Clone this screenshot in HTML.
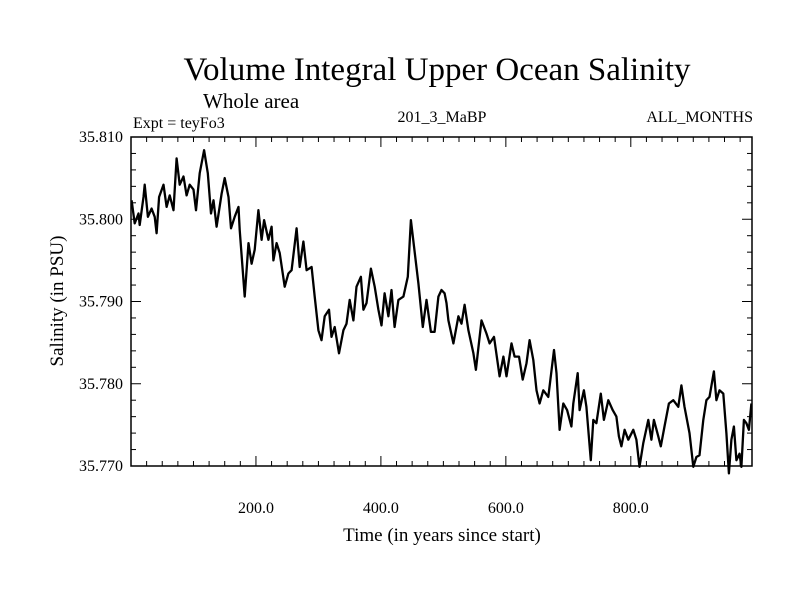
<!DOCTYPE html>
<html><head><meta charset="utf-8"><style>
body{margin:0;background:#fff;}
svg text{font-family:"Liberation Serif",serif;fill:#000;}
</style></head><body>
<svg id="chart" width="800" height="600" xmlns="http://www.w3.org/2000/svg">
<rect width="800" height="600" fill="#fff"/>
<text x="437" y="80" font-size="33" text-anchor="middle">Volume Integral Upper Ocean Salinity</text>
<text x="203" y="108" font-size="21">Whole area</text>
<text x="133" y="128" font-size="16">Expt = teyFo3</text>
<text x="442" y="122" font-size="16" text-anchor="middle">201_3_MaBP</text>
<text x="753" y="122" font-size="16" text-anchor="end">ALL_MONTHS</text>
<text transform="translate(63,301) rotate(-90)" font-size="19" text-anchor="middle">Salinity (in PSU)</text>
<text x="442" y="541" font-size="19" text-anchor="middle">Time (in years since start)</text>
<g id="axes"></g>
<path id="line" fill="none" stroke="#000" stroke-width="2.3" stroke-linejoin="round"/>
<rect x="131" y="137" width="621" height="329" fill="none" stroke="#000" stroke-width="1.5"/>
</svg>
<script>
const years=[1,6,12,14,20,22,27,33,38,41,45,52,57,62,68,73,78,84,89,94,100,104,110,117,123,128,132,137,145,150,156,160,166,172,174,182,188,193,198,204,209,213,220,225,228,233,238,246,252,257,265,270,276,281,289,294,300,305,310,317,321,326,333,340,345,350,356,361,368,372,377,384,390,396,401,406,412,417,422,428,436,443,448,453,460,467,473,480,486,492,497,502,505,508,516,524,529,534,540,548,552,561,569,574,581,590,596,601,609,614,621,627,633,638,644,649,654,660,668,677,681,686,692,698,705,708,715,718,725,729,736,740,745,752,757,764,771,777,781,785,790,796,804,809,814,820,828,833,837,844,848,854,861,868,876,881,886,894,900,905,910,916,921,926,933,937,942,948,953,957,961,965,969,974,977,981,985,989,993];
const salinity=[35.8023,35.7995,35.8007,35.7993,35.8027,35.8042,35.8003,35.8013,35.8003,35.7983,35.8027,35.8042,35.8015,35.8029,35.8011,35.8074,35.8042,35.8052,35.8029,35.8042,35.8036,35.8011,35.8056,35.8084,35.8056,35.8007,35.8023,35.7991,35.8031,35.8050,35.8027,35.7989,35.8003,35.8015,35.7987,35.7906,35.7971,35.7946,35.7963,35.8011,35.7975,35.7999,35.7975,35.7991,35.7950,35.7971,35.7959,35.7918,35.7934,35.7938,35.7989,35.7942,35.7973,35.7938,35.7942,35.7906,35.7865,35.7853,35.7882,35.7890,35.7857,35.7869,35.7837,35.7865,35.7873,35.7902,35.7877,35.7918,35.7930,35.7890,35.7898,35.7940,35.7918,35.7890,35.7871,35.7910,35.7882,35.7914,35.7869,35.7902,35.7906,35.7930,35.7999,35.7967,35.7922,35.7869,35.7902,35.7863,35.7863,35.7906,35.7914,35.7910,35.7898,35.7877,35.7849,35.7882,35.7873,35.7896,35.7865,35.7837,35.7817,35.7877,35.7861,35.7849,35.7857,35.7809,35.7833,35.7809,35.7849,35.7833,35.7833,35.7805,35.7825,35.7853,35.7829,35.7792,35.7776,35.7792,35.7784,35.7841,35.7813,35.7744,35.7776,35.7768,35.7748,35.7776,35.7813,35.7768,35.7792,35.7772,35.7707,35.7756,35.7752,35.7788,35.7756,35.7780,35.7768,35.7760,35.7736,35.7724,35.7744,35.7732,35.7744,35.7732,35.7699,35.7728,35.7756,35.7732,35.7756,35.7736,35.7724,35.7748,35.7776,35.7780,35.7772,35.7798,35.7772,35.7740,35.7699,35.7711,35.7713,35.7756,35.7780,35.7784,35.7815,35.7780,35.7792,35.7788,35.7740,35.7691,35.7732,35.7748,35.7707,35.7715,35.7699,35.7756,35.7752,35.7744,35.7776];
const xTickLabels=["200.0","400.0","600.0","800.0"];
const xTickValues=[200,400,600,800];
const yTickLabels=["35.770","35.780","35.790","35.800","35.810"];
const yTickValues=[35.770,35.780,35.790,35.800,35.810];

const L=131,R=752,T=137,B=466,XMIN=0,XMAX=994,YMIN=35.770,YMAX=35.810;
const sx=v=>L+(v-XMIN)/(XMAX-XMIN)*(R-L);
const sy=v=>B-(v-YMIN)/(YMAX-YMIN)*(B-T);
const NS="http://www.w3.org/2000/svg";
const ax=document.getElementById('axes');
function ln(x1,y1,x2,y2,name){const e=document.createElementNS(NS,'line');e.setAttribute('x1',x1);e.setAttribute('y1',y1);e.setAttribute('x2',x2);e.setAttribute('y2',y2);e.setAttribute('stroke','#000');e.setAttribute('stroke-width','1');


ax.appendChild(e);}
for(let v=25;v<XMAX;v+=25){const x=sx(v);const len=(v%200===0)?10:5;ln(x,B,x,B-len,'x-tick');ln(x,T,x,T+len,'x-tick-top');}
for(let i=1;i<20;i++){const v=YMIN+i*0.002;const y=sy(v);const len=(i%5===0)?10:5;ln(L,y,L+len,y,'y-tick');ln(R,y,R-len,y,'y-tick-right');}
xTickLabels.forEach((t,i)=>{const e=document.createElementNS(NS,'text');e.setAttribute('x',sx(xTickValues[i]));e.setAttribute('y',513);e.setAttribute('font-size','16');e.setAttribute('text-anchor','middle');e.textContent=t;


ax.appendChild(e);});
yTickLabels.forEach((t,i)=>{const e=document.createElementNS(NS,'text');e.setAttribute('x',123);e.setAttribute('y',sy(yTickValues[i])+5);e.setAttribute('font-size','16');e.setAttribute('text-anchor','end');e.textContent=t;


ax.appendChild(e);});
document.getElementById('line').setAttribute('d',years.map((yr,i)=>(i?'L':'M')+sx(yr).toFixed(1)+','+sy(salinity[i]).toFixed(1)).join(''));
</script>
</body></html>
